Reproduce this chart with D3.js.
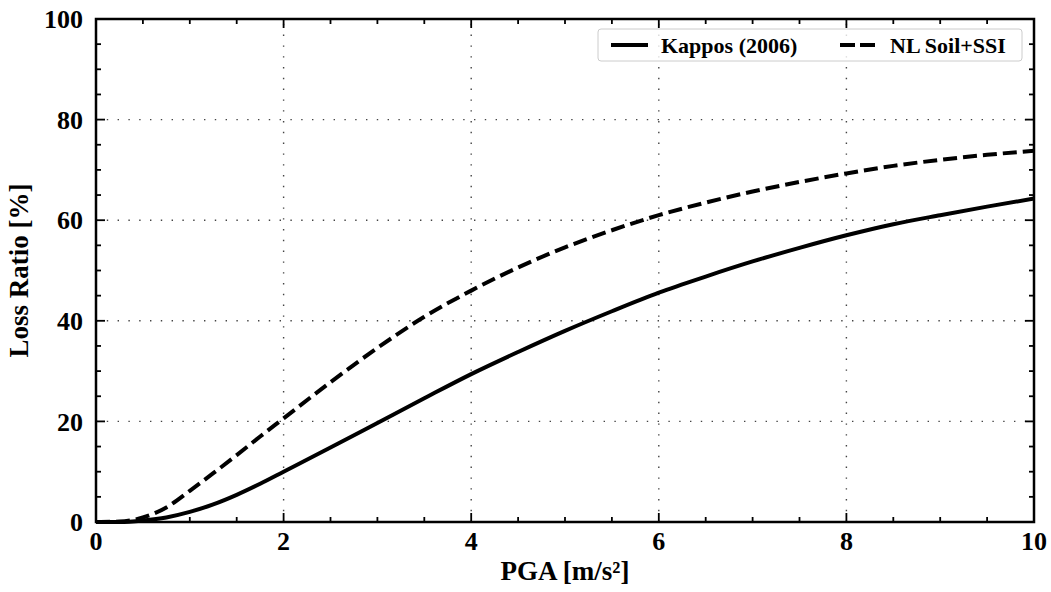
<!DOCTYPE html>
<html>
<head>
<meta charset="utf-8">
<script src="https://cdn.jsdelivr.net/npm/d3@7"></script>
<style>
  body { margin: 0; background: #fff; }
  svg { display: block; }
  text { font-family: "Liberation Serif", "Times New Roman", serif; font-weight: bold; fill: #000; }
</style>
</head>
<body>
<svg id="chart" width="1051" height="592"></svg>
<script>
// PGA values [m/s²]
const pga = [0, 0.25, 0.5, 0.75, 1, 1.25, 1.5, 1.75, 2, 2.5, 3, 3.5, 4, 4.5, 5, 5.5, 6, 6.5, 7, 7.5, 8, 8.5, 9, 9.5, 10];
// Loss ratio [%]
const kappos = [0, 0, 0.3, 0.9, 2.0, 3.5, 5.4, 7.6, 10.0, 14.8, 19.7, 24.6, 29.4, 33.8, 38.0, 41.9, 45.6, 48.8, 51.8, 54.5, 57.0, 59.2, 61.0, 62.7, 64.3];
const nlSoil = [0, 0.1, 0.9, 2.9, 6.2, 9.7, 13.3, 17.0, 20.6, 27.8, 34.6, 40.8, 46.0, 50.6, 54.6, 58.0, 61.0, 63.5, 65.7, 67.6, 69.3, 70.8, 72.0, 73.0, 73.8];
const seriesNames = ['Kappos (2006)', 'NL Soil+SSI'];
const xTicks = [0, 2, 4, 6, 8, 10];
const yTicks = [0, 20, 40, 60, 80, 100];

const svg = d3.select('#chart');
const margin = { left: 96, right: 17, top: 19, bottom: 70 };
const W = 1051, H = 592;

const x = d3.scaleLinear().domain([0, 10]).range([margin.left, W - margin.right]);
const y = d3.scaleLinear().domain([0, 100]).range([H - margin.bottom, margin.top]);

const g = svg.append('g');

// grid
g.selectAll('line.vgrid').data(xTicks.slice(1, -1)).enter().append('line')
    .attr('x1', d => x(d)).attr('x2', d => x(d))
    .attr('y1', y(0)).attr('y2', y(100))
    .style('stroke', '#444').style('stroke-width', 1.4).style('stroke-dasharray', '1.4,9.4');
g.selectAll('line.hgrid').data(yTicks.slice(1, -1)).enter().append('line')
    .attr('y1', d => y(d)).attr('y2', d => y(d))
    .attr('x1', x(0)).attr('x2', x(10))
    .style('stroke', '#444').style('stroke-width', 1.4).style('stroke-dasharray', '1.4,9.4');

// curves
const line = d3.line().x(d => x(d[0])).y(d => y(d[1])).curve(d3.curveMonotoneX);
g.append('path').datum(pga.map((p, i) => [p, kappos[i]]))
    .attr('d', line).style('fill', 'none').style('stroke', '#000').style('stroke-width', 4);
g.append('path').datum(pga.map((p, i) => [p, nlSoil[i]]))
    .attr('d', line).style('fill', 'none').style('stroke', '#000').style('stroke-width', 4)
    .style('stroke-dasharray', '14,6');

// ticks on all four sides, pointing inward
const xMinor = d3.range(0, 10.01, 0.5);
const yMinor = d3.range(0, 100.1, 5);
function tickLen(v, step) { return Math.abs(v / step - Math.round(v / step)) < 1e-6 ? 9 : 5; }
xMinor.forEach(v => {
    const L = tickLen(v, 2);
    g.append('line').attr('x1', x(v)).attr('x2', x(v)).attr('y1', y(0)).attr('y2', y(0) - L)
        .style('stroke', '#000').style('stroke-width', 1.8);
    g.append('line').attr('x1', x(v)).attr('x2', x(v)).attr('y1', y(100)).attr('y2', y(100) + L)
        .style('stroke', '#000').style('stroke-width', 1.8);
});
yMinor.forEach(v => {
    const L = tickLen(v, 20);
    g.append('line').attr('y1', y(v)).attr('y2', y(v)).attr('x1', x(0)).attr('x2', x(0) + L)
        .style('stroke', '#000').style('stroke-width', 1.8);
    g.append('line').attr('y1', y(v)).attr('y2', y(v)).attr('x1', x(10)).attr('x2', x(10) - L)
        .style('stroke', '#000').style('stroke-width', 1.8);
});

// frame
g.append('rect').attr('x', x(0)).attr('y', y(100))
    .attr('width', x(10) - x(0)).attr('height', y(0) - y(100))
    .style('fill', 'none').style('stroke', '#000').style('stroke-width', 2.5);

// tick labels
g.selectAll('text.xt').data(xTicks).enter().append('text')
    .attr('x', d => x(d)).attr('y', 550)
    .attr('text-anchor', 'middle').style('font-size', '26px').text(d => d);
g.selectAll('text.yt').data(yTicks).enter().append('text')
    .attr('x', x(0) - 13).attr('y', d => y(d)).attr('dy', '0.35em')
    .attr('text-anchor', 'end').style('font-size', '26px').text(d => d);

// axis titles
g.append('text').attr('x', (x(0) + x(10)) / 2).attr('y', 580)
    .attr('text-anchor', 'middle').style('font-size', '27px').text('PGA [m/s²]');
g.append('text').attr('transform', `translate(28,${(y(0) + y(100)) / 2}) rotate(-90)`)
    .attr('text-anchor', 'middle').style('font-size', '27px').text('Loss Ratio [%]');

// legend (semi-transparent frame like matplotlib)
const lg = g.append('g').attr('transform', 'translate(598,29)');
lg.append('rect').attr('x', 0).attr('y', 0).attr('width', 424).attr('height', 32)
    .attr('rx', 3).style('fill', '#fff').style('fill-opacity', 0.8)
    .style('stroke', '#ccc').style('stroke-width', 1);
const items = [
    { name: seriesNames[0], x0: 13, dash: null },
    { name: seriesNames[1], x0: 242, dash: '15,5' }
];
items.forEach(it => {
    lg.append('line').attr('x1', it.x0).attr('x2', it.x0 + 37).attr('y1', 16).attr('y2', 16)
        .style('stroke', '#000').style('stroke-width', 4)
        .style('stroke-dasharray', it.dash);
    lg.append('text').attr('x', it.x0 + 50).attr('y', 16).attr('dy', '0.35em')
        .style('font-size', '22px').text(it.name);
});
</script>
</body>
</html>
